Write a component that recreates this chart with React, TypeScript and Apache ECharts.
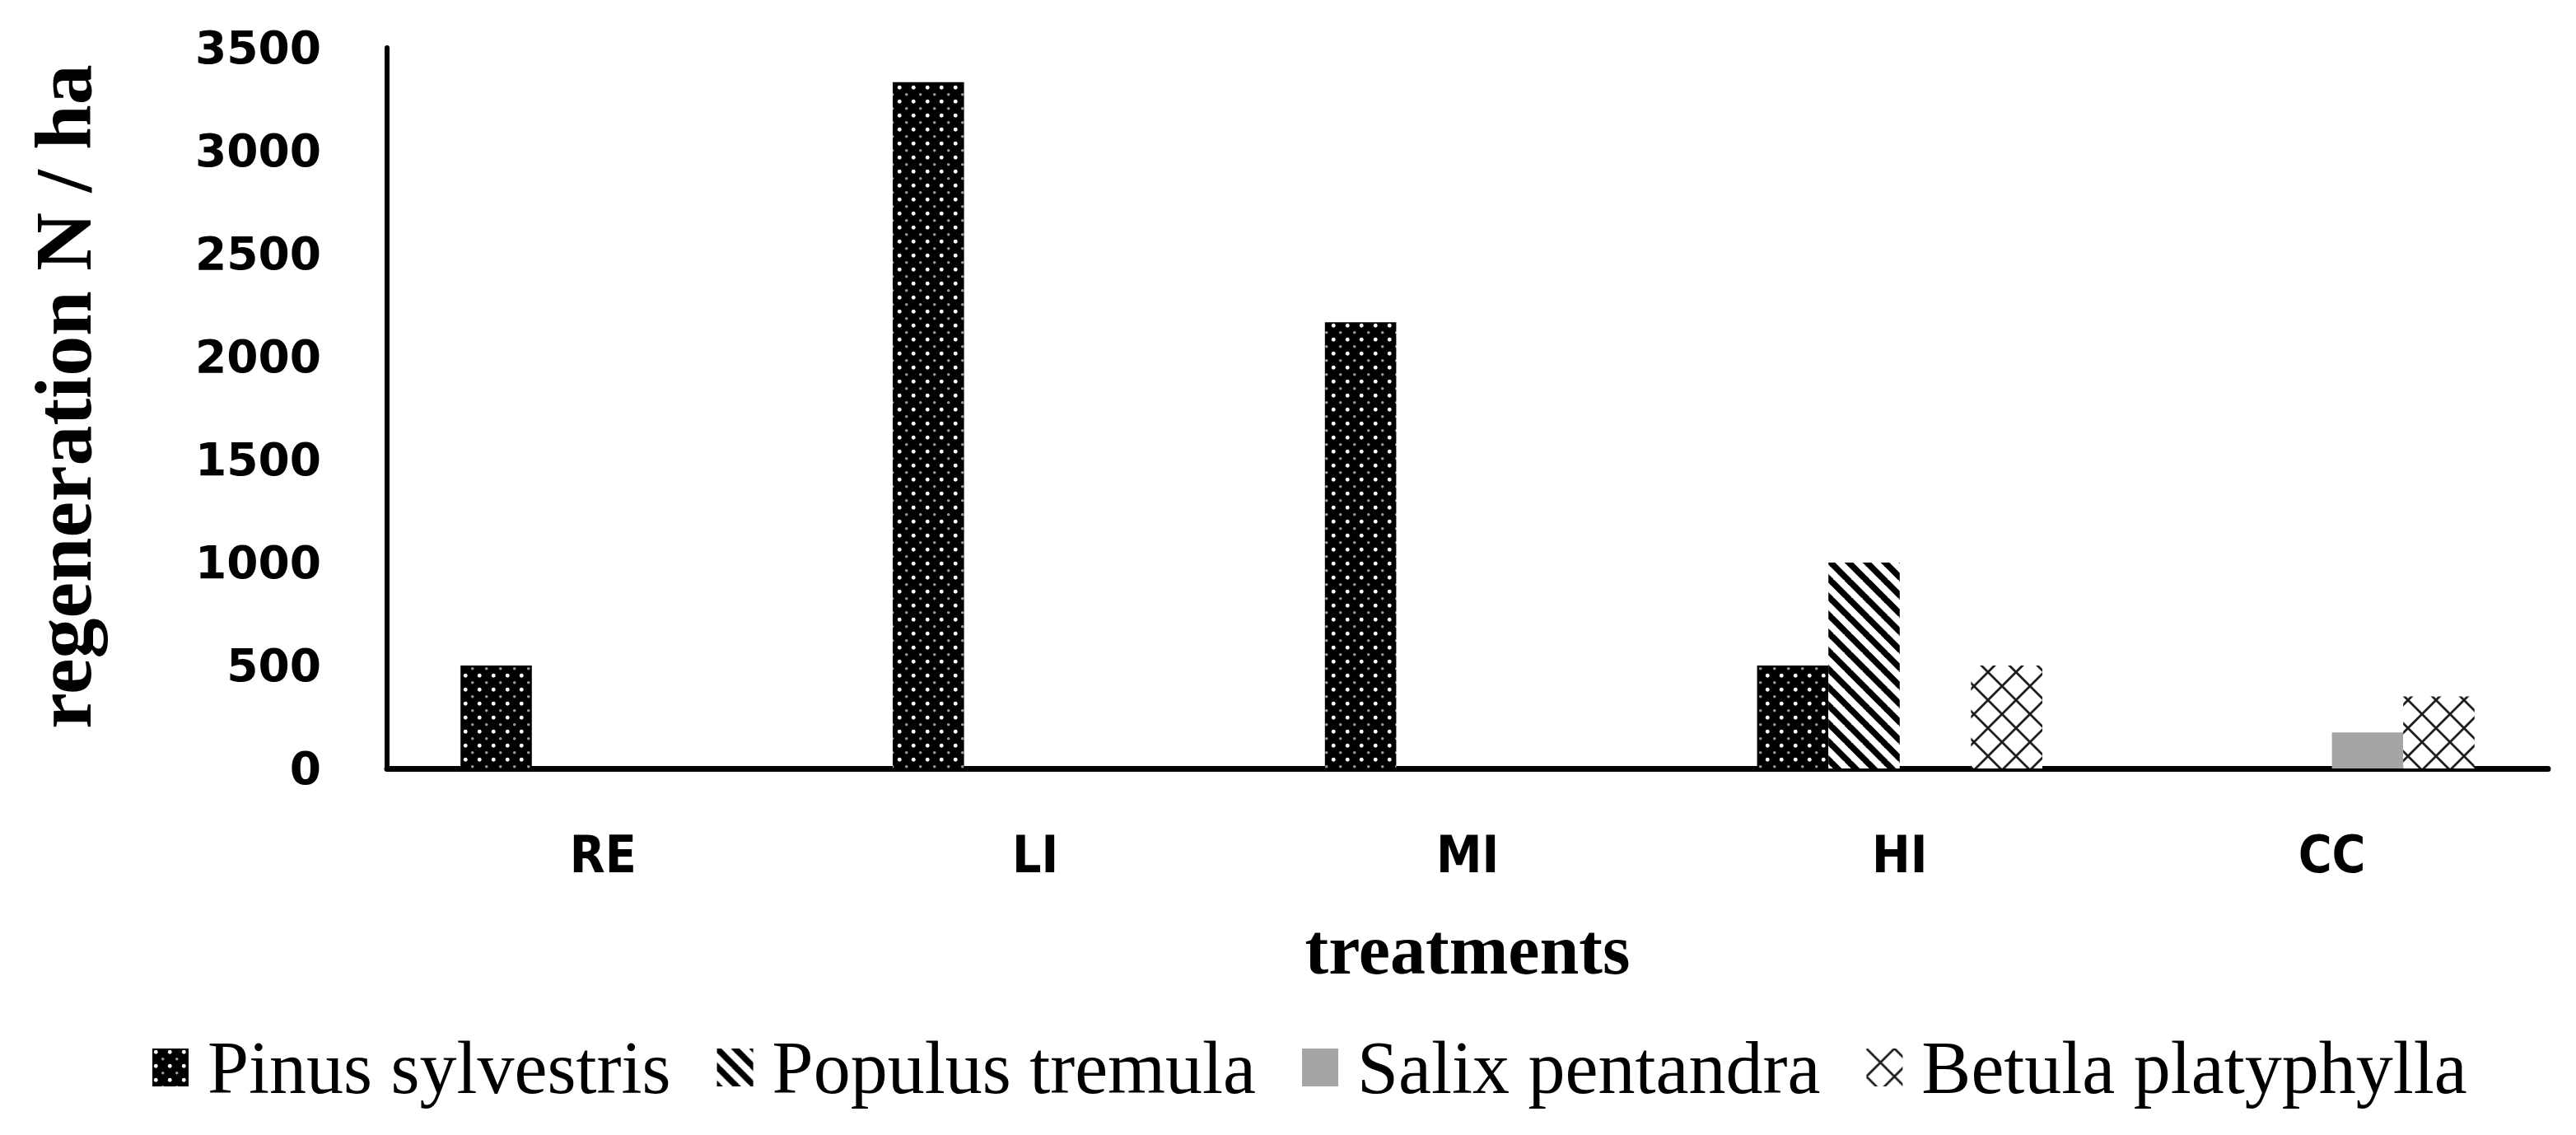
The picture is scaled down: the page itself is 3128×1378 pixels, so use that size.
import React, { useEffect, useRef } from "react";
import * as echarts from "echarts";

// ---- data ----
const categories = ["RE", "LI", "MI", "HI", "CC"];
const seriesNames = ["Pinus sylvestris", "Populus tremula", "Salix pentandra", "Betula platyphylla"];
const pinusValues = [500, 3333, 2167, 500, 0];
const populusValues = [0, 0, 0, 1000, 0];
const salixValues = [0, 0, 0, 0, 175];
const betulaValues = [0, 0, 0, 500, 350];
const yMin = 0;
const yMax = 3500;
const yStep = 500;
const xAxisTitle = "treatments";
const yAxisTitle = "regeneration N / ha";

function makeCanvas(w: number, h: number) {
  const c = document.createElement("canvas");
  c.width = w;
  c.height = h;
  return c;
}

function dotPattern() {
  const s = 17;
  const c = makeCanvas(s, s);
  const g = c.getContext("2d")!;
  g.fillStyle = "#000";
  g.fillRect(0, 0, s, s);
  g.fillStyle = "#ffffff";
  g.beginPath();
  g.arc(4.25, 4.25, 2.4, 0, Math.PI * 2);
  g.fill();
  g.fillStyle = "#9a9a9a";
  g.beginPath();
  g.arc(12.75, 12.75, 1.8, 0, Math.PI * 2);
  g.fill();
  return { image: c, repeat: "repeat", imageWidth: s, imageHeight: s };
}

function stripePattern() {
  const p = 22;
  const c = makeCanvas(p, p);
  const g = c.getContext("2d")!;
  g.fillStyle = "#fff";
  g.fillRect(0, 0, p, p);
  g.strokeStyle = "#000";
  g.lineWidth = 7.5;
  for (let k = -1; k <= 1; k++) {
    g.beginPath();
    g.moveTo(k * p - 2, -2);
    g.lineTo(k * p + p + 2, p + 2);
    g.stroke();
  }
  return { image: c, repeat: "repeat", imageWidth: p, imageHeight: p };
}

function latticePattern() {
  const p = 34;
  const c = makeCanvas(p, p);
  const g = c.getContext("2d")!;
  g.fillStyle = "#fff";
  g.fillRect(0, 0, p, p);
  g.strokeStyle = "#1e1e1e";
  g.lineWidth = 2.8;
  g.beginPath();
  g.moveTo(-3, -3);
  g.lineTo(p + 3, p + 3);
  g.moveTo(p + 3, -3);
  g.lineTo(-3, p + 3);
  g.stroke();
  return { image: c, repeat: "repeat", imageWidth: p, imageHeight: p };
}

export default function App() {
  const ref = useRef<HTMLDivElement>(null);

  useEffect(() => {
    if (!ref.current) return;
    const chart = echarts.init(ref.current, undefined, { renderer: "svg" });
    const fills: any[] = [dotPattern(), stripePattern(), "#a5a5a5", latticePattern()];
    const values = [pinusValues, populusValues, salixValues, betulaValues];

    chart.setOption({
      animation: false,
      backgroundColor: "#ffffff",
      grid: { left: 470, right: 34, top: 58, bottom: 445, containLabel: false },
      legend: {
        left: 180,
        top: 1246,
        icon: "rect",
        itemWidth: 44,
        itemHeight: 46,
        itemGap: 56,
        data: seriesNames,
        textStyle: {
          fontFamily: "'Liberation Serif', 'Times New Roman', serif",
          fontSize: 90,
          color: "#000",
          padding: [0, 0, 0, 18],
        },
      },
      xAxis: {
        type: "category",
        data: categories,
        name: xAxisTitle,
        nameLocation: "middle",
        nameGap: 177,
        nameTextStyle: {
          fontFamily: "'Liberation Serif', 'Times New Roman', serif",
          fontWeight: "bold",
          fontSize: 86,
          color: "#000",
        },
        axisLine: { show: true, lineStyle: { color: "#000", width: 7 } },
        axisTick: { show: false },
        axisLabel: {
          fontFamily: "'Liberation Sans Narrow', 'Arial Narrow', 'DejaVu Sans Condensed', 'Liberation Sans', sans-serif",
          fontWeight: "bold",
          fontSize: 62,
          color: "#000",
          margin: 73,
        },
        splitLine: { show: false },
      },
      yAxis: {
        type: "value",
        min: yMin,
        max: yMax,
        interval: yStep,
        name: yAxisTitle,
        nameLocation: "middle",
        nameGap: 344,
        nameTextStyle: {
          fontFamily: "'Liberation Serif', 'Times New Roman', serif",
          fontWeight: "bold",
          fontSize: 98,
          color: "#000",
          padding: [0, 0, 0, 28],
        },
        axisLine: { show: true, lineStyle: { color: "#000", width: 6 } },
        axisTick: { show: false },
        splitLine: { show: false },
        axisLabel: {
          fontFamily: "'DejaVu Sans', sans-serif",
          fontWeight: "bold",
          fontSize: 55,
          color: "#000",
          margin: 80,
          formatter: (v: number) => String(v),
        },
      },
      series: seriesNames.map((name, i) => ({
        name,
        type: "bar",
        data: values[i],
        barGap: "0%",
        barCategoryGap: "34%",
        itemStyle: { color: fills[i] },
        emphasis: { disabled: true },
      })),
    });

    return () => chart.dispose();
  }, []);

  return (
    <div
      ref={ref}
      style={{ position: "fixed", left: 0, top: 0, width: "3128px", height: "1378px", background: "#fff" }}
    />
  );
}
